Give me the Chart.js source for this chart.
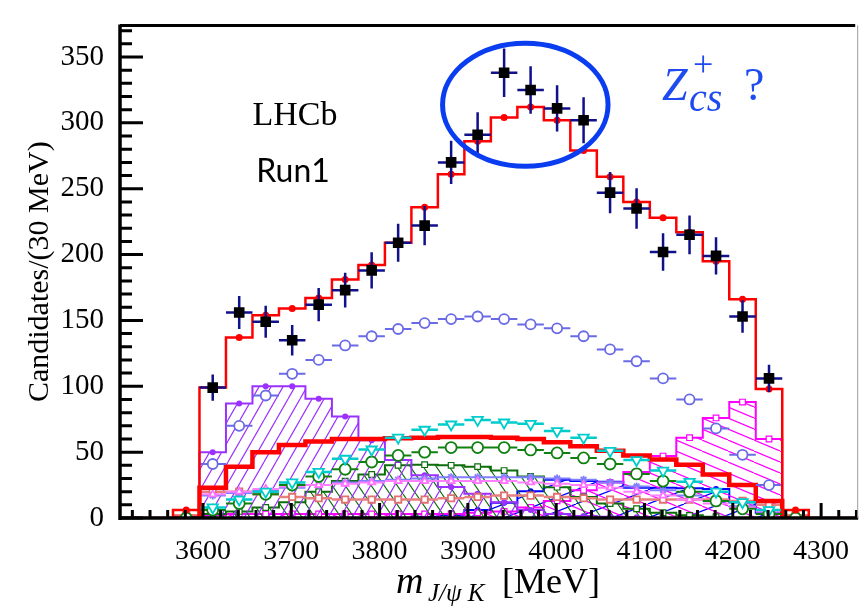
<!DOCTYPE html>
<html>
<head>
<meta charset="utf-8">
<script src="https://cdn.jsdelivr.net/npm/chart.js@4/dist/chart.umd.min.js"></script>
<style>
html, body { margin: 0; padding: 0; background: #fff; }
canvas { display: block; }
</style>
</head>
<body>
<canvas id="chart" width="866" height="609"></canvas>
<script>
// bins of 30 MeV, centres
const binCenters = [3581, 3611, 3641, 3671, 3701, 3731, 3761, 3791, 3821, 3851, 3881, 3911,
                    3941, 3971, 4001, 4031, 4061, 4091, 4121, 4151, 4181, 4211, 4241, 4271]
const binWidth = 30

// data and fit values
const dataCounts = [null, 99, 156, 149, 135, 162, 173, 188, 209, 222, 270, 291,
                    338, 325, 311, 302, 247, 235, 202, 215, 199, 153, 106, null]
const dataErrors = [null, 10, 12.5, 12.2, 11.6, 12.7, 13.2, 13.7, 14.5, 14.9, 16.4, 17.1,
                    18.4, 18, 17.6, 17.4, 15.7, 15.3, 14.2, 14.7, 14.1, 12.4, 10.3, null]
const totalFit = [6, 99, 137, 154, 159, 167, 181, 192, 209, 236, 261, 286,
                  304, 312, 302, 279, 259, 240, 228, 217, 195, 166, 98, 6]
const blueCircles = [null, 41, 70, 93, 109.5, 120, 131, 138, 143.5, 148, 151, 153,
                     151, 147, 144, 138, 128, 119, 106, 90, 68, 48, 25, null]
const cyanTriangles = [null, 8, 14, 20, 27, 35, 45, 52, 61, 67, 71, 74.5,
                       72.5, 71.5, 66, 61, 51, 44, 36, 27.5, 20, 12, 6, null]
const greenCircles = [0, 6, 11, 18, 25, 31.5, 37, 42.5, 47.5, 50, 53.5, 53.5,
                      53.5, 51.7, 49.4, 45.6, 41, 33.5, 28, 20, 13, 7, 3, 0]
const thickRed = [0, 23, 39, 50, 55.5, 58, 60, 60, 60.5, 61, 61.5, 61.5,
                  61, 60, 57.5, 54.5, 51, 47.5, 44.5, 40.5, 33, 25, 13, 0]
const pinkTriangles = [null, 18, 20, 22, 24, 25, 26, 27, 28, 28, 28, 28,
                       28, 27, 26, 25, 23, 20, 17, 14, 11, 8, 5, null]
const lavenderStars = [null, 17, 19, 21, 23, 25, 27, 28, 29, 30, 31, 31,
                       31, 31, 30, 29, 27, 24, 21, 17, 13, 9, 5, null]
const salmonSquares = [2, 20, 20, 18, 16, 15, 14, 14, 14, 14, 15, 16,
                       17, 17, 16, 15, 14, 14, 14, 14, 14, 13, 10, 2]
const purpleHist = [0, 50, 87, 100, 100, 90.5, 77, 59, 44, 32.5, 23.5, 18.5,
                    12, 6, 3, 1.5, 1, 0.5, 0, 0, 0, 0, 0, 0]
const greenHist = [0, 3, 5, 8, 12, 20, 28, 33, 40, 40.5, 40, 39,
                   36, 31.5, 23.4, 16, 11, 7, 4, 2, 1, 0, 0, 0]
const magentaHist = [0, 2, 3, 3, 3, 3, 3, 3, 3, 3, 3, 4,
                     5, 8, 13, 21, 27, 35, 47, 61, 76, 88, 60, 0]
const blueHist = [0, 0, 0, 0, 0, 0, 0, 0, 0, 1, 2, 6,
                  11.5, 20.4, 29, 28, 27.5, 23, 23, 22.5, 22, 12, 4, 0]

const xTickValues = [3600, 3700, 3800, 3900, 4000, 4100, 4200, 4300]
const yTickValues = [0, 50, 100, 150, 200, 250, 300, 350]
const xMin = 3506, xMax = 4342, yMax = 374

// highlighted region (data coordinates)
const ringCenter = [3965, 313.8]
const ringRadius = [93.7, 46.7]

Chart.defaults.font.family = '"Liberation Serif", "Times New Roman", serif'

const ctx = document.getElementById('chart').getContext('2d')

function pts(vals, errs) {
    const out = []
    binCenters.forEach((c, i) => {
        if (vals[i] === null) return
        out.push({x: c, y: vals[i], e: errs ? errs[i] : 0})
    })
    return out
}

// step outline with edges at bin boundaries
function histPts(vals, extend) {
    const out = []
    const h = binWidth / 2
    if (extend) out.push({x: xMin, y: 0})
    out.push({x: binCenters[0] - h, y: 0})
    binCenters.forEach((c, i) => out.push({x: c - h, y: vals[i]}))
    out.push({x: binCenters[binCenters.length - 1] + h, y: 0})
    if (extend) out.push({x: xMax, y: 0})
    return out
}

function hatch(color, a, b, dir, lw) {
    const c = document.createElement('canvas')
    c.width = a
    c.height = b
    const g = c.getContext('2d')
    g.strokeStyle = color
    g.lineWidth = lw
    g.beginPath()
    for (let k = -1; k <= 1; k++) {
        if (dir > 0) {
            g.moveTo(k * a, b)
            g.lineTo(k * a + a, 0)
        } else {
            g.moveTo(k * a, 0)
            g.lineTo(k * a + a, b)
        }
    }
    g.stroke()
    return ctx.createPattern(c, 'repeat')
}

function markers(vals, style, color, radius, opts) {
    return Object.assign({
        data: pts(vals),
        pointStyle: style,
        pointRadius: radius,
        pointBorderColor: color,
        pointBackgroundColor: '#fff',
        pointBorderWidth: 1.8,
        showLine: false
    }, opts || {})
}

function stepLine(vals, color, width, opts) {
    return Object.assign({
        data: histPts(vals),
        showLine: true,
        stepped: true,
        borderColor: color,
        borderWidth: width,
        pointRadius: 0,
        fill: false
    }, opts || {})
}

const barsPlugin = {
    id: 'bars',
    beforeDatasetDraw(chart, args) {
        const ds = chart.data.datasets[args.index]
        if (!ds.bars) return
        const {ctx, scales: {x, y}} = chart
        ctx.save()
        ctx.strokeStyle = ds.bars.color
        ctx.lineWidth = ds.bars.width
        ctx.beginPath()
        ds.data.forEach(p => {
            const py = y.getPixelForValue(p.y)
            ctx.moveTo(x.getPixelForValue(p.x - binWidth / 2), py)
            ctx.lineTo(x.getPixelForValue(p.x + binWidth / 2), py)
            if (p.e) {
                const px = x.getPixelForValue(p.x)
                ctx.moveTo(px, y.getPixelForValue(p.y + p.e))
                ctx.lineTo(px, y.getPixelForValue(p.y - p.e))
            }
        })
        ctx.stroke()
        ctx.restore()
    }
}

const framePlugin = {
    id: 'frame',
    afterDatasetsDraw(chart) {
        const {ctx, chartArea: a, scales: {x, y}} = chart
        ctx.save()
        ctx.strokeStyle = '#000'
        ctx.lineCap = 'butt'
        ctx.lineWidth = 3
        ctx.beginPath()
        for (let v = 0; v <= yMax; v += 10) {
            const py = y.getPixelForValue(v)
            ctx.moveTo(a.left, py)
            ctx.lineTo(a.left + (yTickValues.includes(v) ? 23 : 12), py)
        }
        for (let v = 3520; v <= xMax; v += 20) {
            const px = x.getPixelForValue(v)
            ctx.moveTo(px, a.bottom)
            ctx.lineTo(px, a.bottom - (xTickValues.includes(v) ? 15 : 8))
        }
        ctx.stroke()

        ctx.lineWidth = 3.5
        ctx.beginPath()
        ctx.moveTo(a.left, a.top - 1)
        ctx.lineTo(a.left, a.bottom + 2)
        ctx.moveTo(a.left, a.bottom)
        ctx.lineTo(a.right, a.bottom)
        ctx.stroke()

        ctx.lineWidth = 3
        ctx.beginPath()
        ctx.moveTo(a.left, a.top)
        ctx.lineTo(a.right - 3, a.top)
        ctx.stroke()

        ctx.strokeStyle = '#9a9a9a'
        ctx.lineWidth = 1
        ctx.beginPath()
        ctx.moveTo(a.right - 0.5, a.top)
        ctx.lineTo(a.right - 0.5, a.bottom)
        ctx.stroke()

        // highlight ring
        const cx = x.getPixelForValue(ringCenter[0])
        const cy = y.getPixelForValue(ringCenter[1])
        const rx = x.getPixelForValue(ringCenter[0] + ringRadius[0]) - cx
        const ry = cy - y.getPixelForValue(ringCenter[1] + ringRadius[1])
        ctx.strokeStyle = '#0a3cf0'
        ctx.lineWidth = 5
        ctx.beginPath()
        ctx.ellipse(cx, cy, rx, ry, 0, 0, Math.PI * 2)
        ctx.stroke()
        ctx.restore()
    },
    afterDraw(chart) {
        const c = chart.ctx
        c.save()
        c.fillStyle = '#000'
        c.textBaseline = 'alphabetic'
        c.textAlign = 'center'
        c.font = '34px "Liberation Serif"'
        c.fillText('LHCb', 295, 125)
        c.font = '32px Lato'
        c.fillText('Run1', 293, 182)

        c.textAlign = 'left'
        c.fillStyle = '#1e4bf0'
        c.font = 'italic 46px "Liberation Serif"'
        c.fillText('Z', 662, 100)
        c.font = 'italic 40px "Liberation Serif"'
        c.fillText('cs', 689, 111)
        c.font = '36px "Liberation Serif"'
        c.fillText('+', 693, 76)
        c.font = '46px "Liberation Serif"'
        c.fillText('?', 744, 100)

        c.fillStyle = '#000'
        c.font = 'italic 38px "Liberation Serif"'
        c.fillText('m', 396, 593)
        c.font = 'italic 25px "Liberation Serif"'
        c.fillText('J/\u03c8 K', 428, 601)
        c.font = '36px "Liberation Serif"'
        c.fillText('[MeV]', 502, 593)
        c.restore()
    }
}

const purpleFill = hatch('#9b30ff', 12, 21, 1, 1.2)
const greenFill = hatch('#0b6e0b', 13, 19, -1, 1.2)
const magentaFill = hatch('#ff00ff', 26, 11, -1, 1.2)
const blueFill = hatch('#0000ff', 36, 14, 1, 1.2)

const chart = new Chart(ctx, {
    type: 'scatter',
    data: {
        datasets: [
            {
                data: pts(dataCounts, dataErrors),
                pointStyle: 'rect',
                pointRadius: 7.5,
                pointBackgroundColor: '#000',
                pointBorderWidth: 0,
                bars: {color: '#10108a', width: 2.5}
            },
            markers(totalFit, 'circle', '#ff0000', 3.5, {pointBackgroundColor: '#ff0000', pointBorderWidth: 0}),
            Object.assign(stepLine(totalFit, '#ff0000', 2.5), {data: histPts(totalFit, true)}),
            markers(blueCircles, 'circle', '#6a6ae6', 5, {bars: {color: '#6a6ae6', width: 2}}),
            markers(cyanTriangles, 'triangle', '#00cccc', 6, {pointRotation: 180, bars: {color: '#00cccc', width: 2.5}}),
            markers(greenCircles, 'circle', '#108010', 5.5, {bars: {color: '#108010', width: 2}}),
            stepLine(thickRed, '#ff0000', 4.5),
            markers(pinkTriangles, 'triangle', '#ff70ff', 4, {bars: {color: '#ff80ff', width: 2}}),
            markers(lavenderStars, 'star', '#7f7fff', 4, {bars: {color: '#7f7fff', width: 2}}),
            markers(salmonSquares, 'rect', '#e07070', 4.5, {bars: {color: '#e88080', width: 2.5}}),
            markers(purpleHist.map(v => v > 0 ? v : null), 'circle', '#9b30ff', 3, {pointBackgroundColor: '#9b30ff', pointBorderWidth: 0}),
            stepLine(purpleHist, '#9b30ff', 2, {fill: 'origin', backgroundColor: purpleFill}),
            markers(greenHist.map(v => v > 0 ? v : null), 'rect', '#0b6e0b', 4, {pointBorderWidth: 1.2}),
            stepLine(greenHist, '#0b6e0b', 2, {fill: 'origin', backgroundColor: greenFill}),
            markers(magentaHist.map(v => v > 0 ? v : null), 'rect', '#ff00ff', 4, {pointBorderWidth: 1.2}),
            stepLine(magentaHist, '#ff00ff', 2, {fill: 'origin', backgroundColor: magentaFill}),
            markers(blueHist.map(v => v > 0 ? v : null), 'circle', '#0000ff', 3, {pointBackgroundColor: '#0000ff', pointBorderWidth: 0}),
            stepLine(blueHist, '#0000ff', 2, {fill: 'origin', backgroundColor: blueFill})
        ]
    },
    options: {
        responsive: false,
        animation: false,
        events: [],
        layout: {padding: {top: 11, right: 2, left: 0, bottom: 0}},
        plugins: {
            legend: {display: false},
            tooltip: {enabled: false}
        },
        scales: {
            x: {
                type: 'linear',
                min: xMin,
                max: xMax,
                afterBuildTicks: s => { s.ticks = xTickValues.map(v => ({value: v})) },
                afterFit: s => { s.height = 91 },
                grid: {display: false},
                border: {display: false},
                ticks: {
                    font: {family: '"Liberation Serif", serif', size: 28},
                    color: '#000',
                    padding: 9,
                    maxRotation: 0,
                    autoSkip: false,
                    callback: v => String(v)
                }
            },
            y: {
                min: 0,
                max: yMax,
                afterBuildTicks: s => { s.ticks = yTickValues.map(v => ({value: v})) },
                afterFit: s => { s.width = 120 },
                grid: {display: false},
                border: {display: false},
                ticks: {
                    font: {family: '"Liberation Serif", serif', size: 29},
                    color: '#000',
                    padding: 8,
                    callback: v => String(v)
                },
                title: {
                    display: true,
                    text: 'Candidates/(30 MeV)',
                    font: {family: '"Liberation Serif", serif', size: 30},
                    color: '#000',
                    padding: {top: 22, bottom: 0}
                }
            }
        }
    },
    plugins: [barsPlugin, framePlugin]
})
</script>
</body>
</html>
